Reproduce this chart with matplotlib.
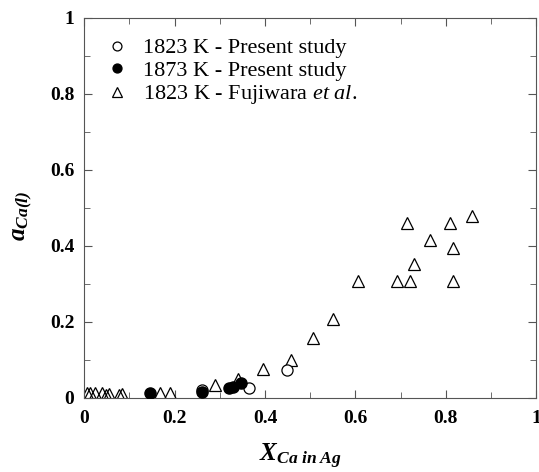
import matplotlib.pyplot as plt
from matplotlib.ticker import MultipleLocator

plt.rcParams['font.family'] = 'Liberation Serif'
plt.rcParams['mathtext.fontset'] = 'custom'
plt.rcParams['mathtext.rm'] = 'Liberation Serif'
plt.rcParams['mathtext.it'] = 'Liberation Serif:italic'
plt.rcParams['mathtext.bfit'] = 'Liberation Serif:italic:bold'

# 1823 K - present study (open circles)
x_1823 = [0.26, 0.365, 0.449]
y_1823 = [0.02, 0.025, 0.074]

# 1873 K - present study (filled circles)
x_1873 = [0.146, 0.26, 0.32, 0.33, 0.348]
y_1873 = [0.014, 0.015, 0.025, 0.028, 0.04]

# 1823 K - Fujiwara et al. (triangles)
x_fuji = [0.006, 0.012, 0.024, 0.039, 0.048, 0.054, 0.078, 0.083, 0.168, 0.19,
          0.29, 0.341, 0.395, 0.457, 0.507, 0.551, 0.606, 0.692, 0.72, 0.729,
          0.714, 0.766, 0.81, 0.815, 0.815, 0.857]
y_fuji = [0.012, 0.012, 0.012, 0.012, 0.008, 0.01, 0.008, 0.01, 0.012, 0.012,
          0.034, 0.05, 0.076, 0.1, 0.157, 0.207, 0.308, 0.308, 0.308, 0.353,
          0.46, 0.416, 0.46, 0.394, 0.308, 0.48]

ticks = [0, 0.2, 0.4, 0.6, 0.8, 1]
tick_labels = ['0', '0.2', '0.4', '0.6', '0.8', '1']

fig = plt.figure(figsize=(5.39, 4.72), dpi=100)
ax = fig.add_axes([0.156, 0.157, 0.839, 0.805])

ax.plot(x_1823, y_1823, 'o', mfc='white', mec='black', ms=8, mew=0.9,
        label='1823 K - Present study', zorder=3)
ax.plot(x_1873, y_1873, 'o', mfc='black', mec='black', ms=8,
        label='1873 K - Present study', zorder=4)
ax.plot(x_fuji, y_fuji, '^', mfc='none', mec='black', ms=9, mew=0.9,
        label='1823 K - Fujiwara $et\\ al.$', zorder=2)

ax.set_xlim(0, 1)
ax.set_ylim(0, 1)
ax.set_xticks(ticks)
ax.set_xticklabels(tick_labels, fontweight='bold')
ax.set_yticks(ticks)
ax.set_yticklabels(tick_labels, fontweight='bold')
ax.xaxis.set_minor_locator(MultipleLocator(0.1))
ax.yaxis.set_minor_locator(MultipleLocator(0.1))
ax.tick_params(which='both', direction='in', top=True, right=True,
               labelsize=14, color='#555555', pad=7)
ax.tick_params(axis='x', which='major', pad=9)
ax.tick_params(which='major', length=6)
ax.tick_params(which='minor', length=4)
for s in ax.spines.values():
    s.set_color('#555555')

ax.set_xlabel('$\\mathbfit{X}_{\\mathbfit{Ca\\ in\\ Ag}}$', fontsize=18)
ax.xaxis.set_label_coords(0.478, -0.116)
ax.set_ylabel('$\\mathbfit{a}_{\\mathbfit{Ca(l)}}$', fontsize=18)
ax.yaxis.set_label_coords(-0.11, 0.48)

ax.legend(loc='upper left', frameon=False, fontsize=16, handletextpad=0.55,
          labelspacing=0.1, borderaxespad=0.5, handlelength=1.2,
          markerscale=0.8)

fig.savefig('out.png', dpi=100)
